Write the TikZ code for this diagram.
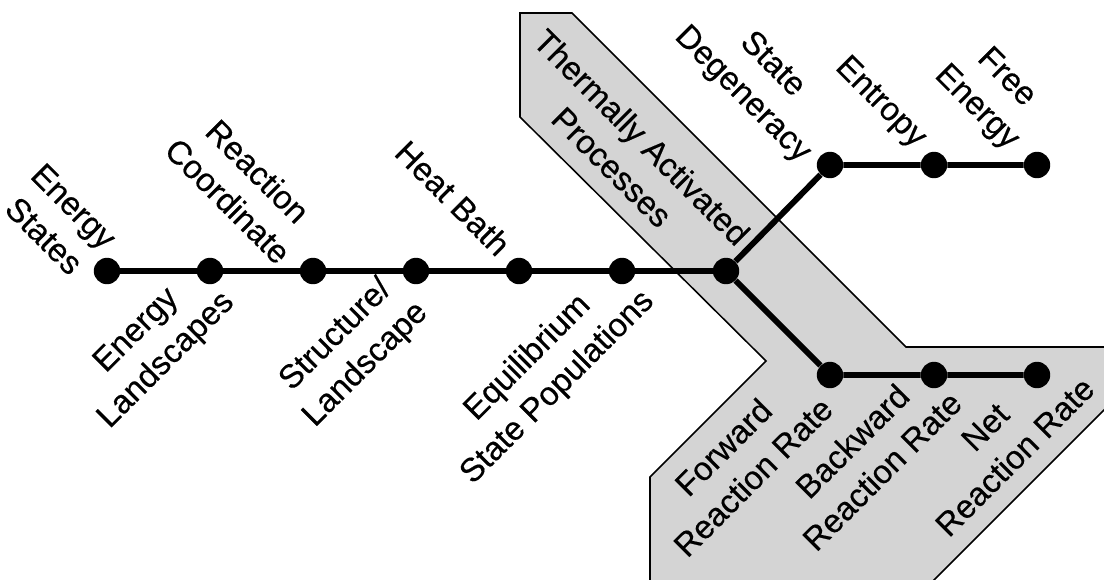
\documentclass[tikz,border=0pt]{standalone}
\usepackage{fontspec}
\setmainfont{Liberation Sans}
\newfontfamily\lblfont[FakeBold=0.4]{Liberation Sans}
\usepackage{tikz}
\usepackage{xcolor}
\definecolor{bandgray}{gray}{0.83}

\begin{document}
\begin{tikzpicture}[x=0.025cm, y=-0.025cm,
  dot/.style={circle, fill=black, inner sep=0pt, minimum size=0.66cm},
  link/.style={line width=4.2pt},
  lbltop/.style={rotate=-45, align=center, inner sep=0pt, font=\lblfont\fontsize{23.4}{29.9}\selectfont},
  lblbot/.style={rotate=45, align=center, inner sep=0pt, font=\lblfont\fontsize{23.4}{29.9}\selectfont}]
\useasboundingbox (0,0) rectangle (1104,579);
\fill[white] (0,0) rectangle (1104,579);
% grey band behind the thermally activated branch
\begin{scope}
\clip (0,0) rectangle (1104,579);
\filldraw[fill=bandgray, draw=black, line width=1.1pt, line join=miter]
  (520,13) -- (572,13) -- (906,347) -- (1130,347) -- (1130,384) -- (914,600)
  -- (650,600) -- (650,477) -- (766,361) -- (520,117) -- cycle;
\end{scope}
% dots
\node[dot] (es) at (107,271) {};
\node[dot] (el) at (210,271) {};
\node[dot] (rc) at (313,271) {};
\node[dot] (sl) at (416,271) {};
\node[dot] (hb) at (519,271) {};
\node[dot] (ep) at (622,271) {};
\node[dot] (tap) at (726,271) {};
\node[dot] (sd) at (830,165) {};
\node[dot] (en) at (934,165) {};
\node[dot] (fe) at (1037,165) {};
\node[dot] (fr) at (830,375) {};
\node[dot] (br) at (934,375) {};
\node[dot] (nr) at (1037,375) {};
% connectors
\draw[link] (es) -- (el) -- (rc) -- (sl) -- (hb) -- (ep) -- (tap);
\draw[link] (tap) -- (sd) -- (en) -- (fe);
\draw[link] (tap) -- (fr) -- (br) -- (nr);
% labels
\node[lbltop] (les) at (59,221) {Energy\\States};
\node[lbltop] (lrc) at (243,186) {Reaction\\Coordinate};
\node[lbltop] (lhb) at (453,198) {Heat Bath};
\node[lbltop] (ltap) at (627,152) {Thermally Activated\\Processes};
\node[lbltop] (lsd) at (757,80) {State\\Degeneracy};
\node[lbltop] (len) at (880,103) {Entropy};
\node[lbltop] (lfe) at (991,93) {Free\\Energy};
\node[lblbot] (lel) at (152,346) {Energy\\Landscapes};
\node[lblbot] (lsl) at (351,350) {Structure/\\Landscape};
\node[lblbot] (lep) at (543,373) {Equilibrium\\State Populations};
\node[lblbot] (lfr) at (738,462) {Forward\\Reaction Rate};
\node[lblbot] (lbr) at (867,456) {Backward\\Reaction Rate};
\node[lblbot] (lnr) at (1000,442) {Net\\Reaction Rate};
\end{tikzpicture}
\end{document}
